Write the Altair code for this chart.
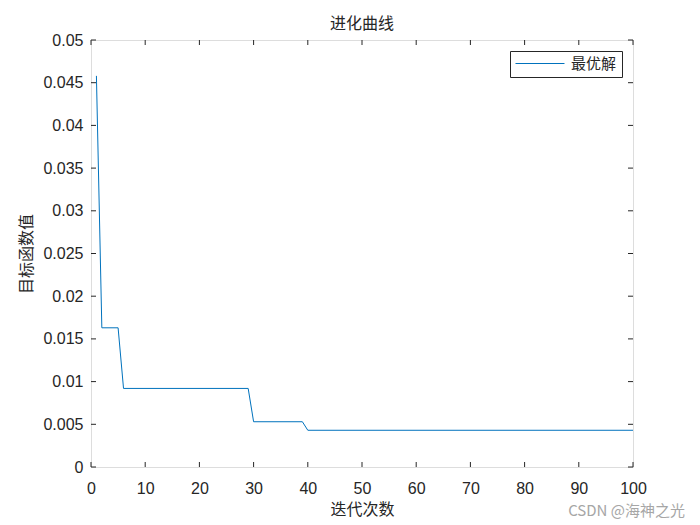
import altair as alt
import pandas as pd

# breakpoints of the best-so-far curve (iteration, objective value)
iterations = [1, 2, 5, 6, 29, 30, 39, 40, 100]
best_values = [0.0458, 0.0163, 0.0163, 0.0092, 0.0092, 0.0053, 0.0053, 0.0043, 0.0043]
series_name = "最优解"
watermark = ["CSDN @海神之光"]

x_ticks = [0, 10, 20, 30, 40, 50, 60, 70, 80, 90, 100]
y_ticks = [0, 0.005, 0.01, 0.015, 0.02, 0.025, 0.03, 0.035, 0.04, 0.045, 0.05]

W, H = 542, 427
LINE_COLOR = "#0072BD"
TICK_FONT = "Liberation Sans"
CJK_FONT = "Noto Sans CJK SC"

df = pd.DataFrame({"iter": iterations, "val": best_values, "series": [series_name] * len(iterations)})
xt = pd.DataFrame({"t": x_ticks})
yt = pd.DataFrame({"t": y_ticks})
wm = pd.DataFrame({"t": watermark})

xscale = alt.Scale(domain=[0, 100], nice=False, zero=False)
yscale = alt.Scale(domain=[0, 0.05], nice=False, zero=False)

xaxis = alt.Axis(values=x_ticks, format="d", grid=False, domain=False, ticks=False, labelFlush=False,
                 labelPadding=13, labelFont=TICK_FONT, labelFontSize=16, labelColor="#262626",
                 title="迭代次数", titleFont=CJK_FONT, titleFontSize=16, titleFontWeight="normal",
                 titleColor="#262626", titlePadding=5)
yaxis = alt.Axis(values=y_ticks, grid=False, domain=False, ticks=False, labelFlush=False,
                 labelPadding=8, labelFont=TICK_FONT, labelFontSize=16, labelColor="#262626",
                 title="目标函数值", titleFont=CJK_FONT, titleFontSize=16, titleFontWeight="normal",
                 titleColor="#262626", titlePadding=8,
                 labelExpr="datum.value == 0 ? '0' : format(datum.value, '~g')")

line = alt.Chart(df).mark_line(strokeWidth=1).encode(
    x=alt.X("iter:Q", scale=xscale, axis=xaxis),
    y=alt.Y("val:Q", scale=yscale, axis=yaxis),
    color=alt.Color("series:N", scale=alt.Scale(range=[LINE_COLOR]),
                    legend=alt.Legend(title=None, orient="top-right", offset=11,
                                      fillColor="white", strokeColor="#262626", padding=5,
                                      symbolType="stroke", symbolSize=2400, symbolStrokeWidth=1,
                                      clipHeight=15, labelOffset=6,
                                      labelFont=CJK_FONT, labelFontSize=15, labelColor="#262626",
                                      cornerRadius=0)),
)

tick_len = 5
xt_bottom = alt.Chart(xt).mark_rule(color="#262626", strokeWidth=1).encode(
    x=alt.X("t:Q", scale=xscale), y=alt.value(H), y2=alt.value(H - tick_len))
xt_top = alt.Chart(xt).mark_rule(color="#262626", strokeWidth=1).encode(
    x=alt.X("t:Q", scale=xscale), y=alt.value(0), y2=alt.value(tick_len))
yt_left = alt.Chart(yt).mark_rule(color="#262626", strokeWidth=1).encode(
    y=alt.Y("t:Q", scale=yscale), x=alt.value(0), x2=alt.value(tick_len))
yt_right = alt.Chart(yt).mark_rule(color="#262626", strokeWidth=1).encode(
    y=alt.Y("t:Q", scale=yscale), x=alt.value(W), x2=alt.value(W - tick_len))

wm_text = alt.Chart(wm).mark_text(font=CJK_FONT, fontSize=15, color="#a6a6a6", align="right",
                                  baseline="middle").encode(
    text="t:N", x=alt.value(W + 52), y=alt.value(H + 44))

chart = alt.layer(line, xt_bottom, xt_top, yt_left, yt_right, wm_text).properties(
    width=W, height=H,
    title=alt.TitleParams("进化曲线", font=CJK_FONT, fontSize=16, fontWeight="normal",
                          color="#262626", offset=0, anchor="middle"),
    autosize=alt.AutoSizeParams(type="none"),
    padding={"left": 83, "top": 32, "right": 55, "bottom": 58},
).configure_view(stroke="#262626", strokeWidth=1).configure(background="white")

chart.save("out.html", embed_options={"renderer": "svg", "actions": False})
